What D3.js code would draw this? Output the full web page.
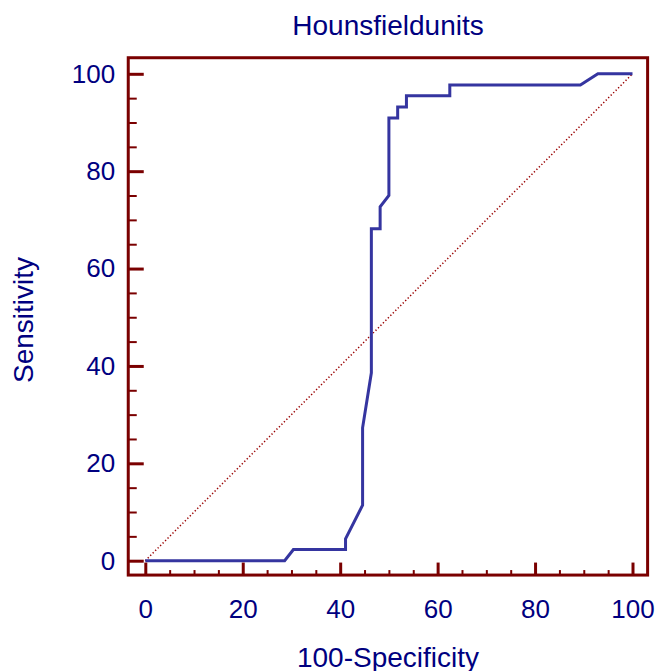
<!DOCTYPE html>
<html>
<head>
<meta charset="utf-8">
<script src="https://cdn.jsdelivr.net/npm/d3@7"></script>
<style>
  body { margin: 0; background: #fff; }
  text { font-family: "Liberation Sans", Arial, sans-serif; fill: #000080; }
</style>
</head>
<body>
<div class="svg-target"></div>
<script>
// ROC curve points (100-Specificity, Sensitivity)
const specValues = [0, 28.6, 30.4, 41.1, 41.1, 44.6, 44.6, 46.4, 46.4, 48.2, 48.2, 50.0, 50.0, 51.8, 51.8, 53.6, 53.6, 62.5, 62.5, 89.3, 92.9, 100];
const sensValues = [0, 0, 2.3, 2.3, 4.5, 11.4, 27.3, 38.6, 68.2, 68.2, 72.7, 75.0, 90.9, 90.9, 93.2, 93.2, 95.5, 95.5, 97.7, 97.7, 100, 100];
const refLine = [0, 100];
const majorTicks = [0, 20, 40, 60, 80, 100];
const minorTicks = d3.range(0, 101, 5).filter(d => d % 20 !== 0);
const titleText = 'Hounsfieldunits';
const xLabel = '100-Specificity';
const yLabel = 'Sensitivity';

const w = 657;
const h = 671;
const frameCol = '#7a0000';

const drawGraph = () => {
    const svg = d3.select('.svg-target')
        .append('svg')
        .attr('width', w)
        .attr('height', h);

    const x = d3.scaleLinear().domain([0, 100]).range([145.3, 632.5]);
    const y = d3.scaleLinear().domain([0, 100]).range([560.7, 73.8]);

    // frame extends a bit beyond 0..100
    const x0 = x(-3.5), x1 = x(103.1);
    const y0 = y(-2.95), y1 = y(103.3);

    // diagonal reference
    svg.append('line')
        .attr('x1', x(refLine[0])).attr('y1', y(refLine[0]))
        .attr('x2', x(refLine[1])).attr('y2', y(refLine[1]))
        .attr('stroke', '#990000')
        .attr('stroke-width', 1.5)
        .attr('stroke-dasharray', '1.3,2.2');

    // ROC curve
    const pts = specValues.map((d, i) => [d, sensValues[i]]);
    svg.append('path')
        .datum(pts)
        .attr('fill', 'none')
        .attr('stroke', '#3535a0')
        .attr('stroke-width', 3)
        .attr('stroke-linejoin', 'miter')
        .attr('d', d3.line().x(d => x(d[0])).y(d => y(d[1])));

    // frame
    svg.append('rect')
        .attr('x', x0).attr('y', y1)
        .attr('width', x1 - x0).attr('height', y0 - y1)
        .attr('fill', 'none')
        .attr('stroke', frameCol)
        .attr('stroke-width', 3);

    // x axis
    const xAxis = svg.append('g')
        .attr('transform', `translate(0, ${y0})`)
        .call(d3.axisBottom(x).tickValues(majorTicks).tickSizeInner(-12.5).tickSizeOuter(0).tickPadding(24));
    svg.append('g')
        .attr('transform', `translate(0, ${y0})`)
        .call(d3.axisBottom(x).tickValues(minorTicks).tickSizeInner(-5).tickSizeOuter(0).tickFormat(''))
        .call(g => g.selectAll('line').attr('stroke-width', 2));

    // y axis
    const yAxis = svg.append('g')
        .attr('transform', `translate(${x0}, 0)`)
        .call(d3.axisLeft(y).tickValues(majorTicks).tickSizeInner(-15.5).tickSizeOuter(0).tickPadding(13));
    svg.append('g')
        .attr('transform', `translate(${x0}, 0)`)
        .call(d3.axisLeft(y).tickValues(minorTicks).tickSizeInner(-8.5).tickSizeOuter(0).tickFormat(''))
        .call(g => g.selectAll('line').attr('stroke-width', 2));

    svg.selectAll('.domain').remove();
    svg.selectAll('.tick line').attr('stroke', frameCol);
    xAxis.selectAll('.tick line').attr('stroke-width', 3);
    yAxis.selectAll('.tick line').attr('stroke-width', 3);
    svg.selectAll('.tick text')
        .attr('fill', '#000080')
        .style('font-size', '26px')
        .style('font-family', '"Liberation Sans", Arial, sans-serif');

    // titles
    svg.append('text')
        .attr('x', 388).attr('y', 35)
        .attr('text-anchor', 'middle')
        .style('font-size', '28px')
        .text(titleText);

    svg.append('text')
        .attr('x', 388).attr('y', 666.5)
        .attr('text-anchor', 'middle')
        .style('font-size', '28px')
        .text(xLabel);

    svg.append('text')
        .attr('transform', 'translate(33, 320) rotate(-90)')
        .attr('text-anchor', 'middle')
        .style('font-size', '28px')
        .text(yLabel);
};

drawGraph();
</script>
</body>
</html>
